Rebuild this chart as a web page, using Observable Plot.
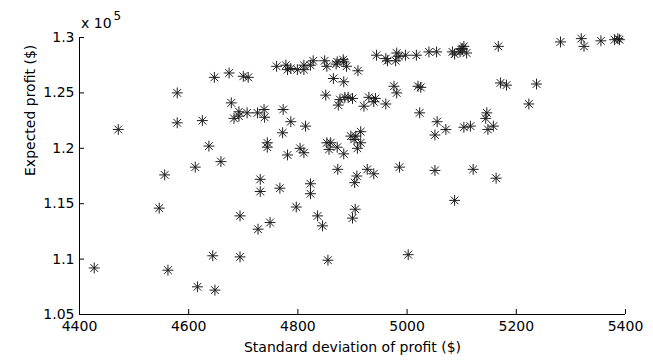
<!DOCTYPE html>
<html>
<head>
<meta charset="utf-8">
<script src="https://cdn.jsdelivr.net/npm/d3@7"></script>
<script src="https://cdn.jsdelivr.net/npm/@observablehq/plot@0.6"></script>
<style>
  html, body { margin: 0; padding: 0; background: #fff; }
</style>
</head>
<body>
<div id="chart"></div>
<script>
// Standard deviation of profit ($)
const stdDev = [4471,4579,4579,4625,4637,4659,4647,4674,4700,4709,4678,4692,4683,4692,4707,4726,4738,4739,4773,4787,
  4814,4772,4744,4744,4781,4804,4811,4853,4860,4857,4872,4884,4897,4906,4915,4903,4915,4909,4761,4778,
  4781,4787,4799,4811,4811,4823,4828,4849,4853,4870,4872,4883,4884,4889,4910,4865,4884,4851,4877,4886,
  4892,4900,4874,4930,4942,4939,4921,4961,4944,4961,4964,4981,4979,4985,4997,5017,5040,5054,4976,4981,
  5020,5025,5023,5055,5051,5083,5087,5097,5101,5104,5109,5099,5167,5281,5319,5324,5355,5380,5386,5389,
  5171,5182,5237,5223,5071,5104,5116,5146,5144,5148,5158,4427,4546,4556,4562,4612,4616,4644,4648,4694,
  4694,4727,4731,4731,4749,4767,4797,4823,4823,4836,4845,4855,4873,4908,4904,4905,4900,4927,4939,4986,
  5051,5002,5121,5163,5087];
// Expected profit (x 10^5 $)
const expProfitE5 = [1.217,1.250,1.223,1.225,1.202,1.188,1.264,1.268,1.265,1.264,1.241,1.233,1.227,1.229,1.232,1.232,1.235,1.228,1.235,1.224,
  1.220,1.214,1.205,1.201,1.194,1.200,1.196,1.205,1.205,1.199,1.201,1.195,1.211,1.211,1.215,1.208,1.205,1.200,1.274,1.275,
  1.271,1.272,1.271,1.275,1.271,1.275,1.279,1.279,1.274,1.276,1.278,1.280,1.278,1.274,1.270,1.263,1.260,1.248,1.244,1.246,
  1.246,1.245,1.239,1.246,1.245,1.242,1.238,1.240,1.284,1.281,1.279,1.286,1.279,1.283,1.284,1.284,1.287,1.287,1.256,1.250,
  1.256,1.255,1.232,1.224,1.212,1.287,1.285,1.287,1.290,1.292,1.286,1.289,1.292,1.296,1.299,1.292,1.297,1.298,1.299,1.298,
  1.259,1.257,1.258,1.240,1.217,1.219,1.220,1.232,1.227,1.217,1.220,1.092,1.146,1.176,1.090,1.183,1.075,1.103,1.072,1.139,
  1.102,1.127,1.172,1.161,1.133,1.164,1.147,1.168,1.159,1.139,1.130,1.099,1.181,1.175,1.169,1.145,1.137,1.181,1.177,1.183,
  1.180,1.104,1.181,1.173,1.153];

const xTicks = [4400, 4600, 4800, 5000, 5200, 5400];
const xTickLabels = ["4400", "4600", "4800", "5000", "5200", "5400"];
const yTicks = [1.05, 1.1, 1.15, 1.2, 1.25, 1.3];
const yTickLabels = ["1.05", "1.1", "1.15", "1.2", "1.25", "1.3"];
const xTitle = "Standard deviation of profit ($)";
const yTitle = "Expected profit ($)";
const exponentBase = "x 10";
const exponentPower = "5";

const points = stdDev.map((x, i) => ({x, y: expProfitE5[i]}));

const W = 653, H = 360;
const mL = 79, mR = 28, mT = 37, mB = 46;
const plotW = W - mL - mR, plotH = H - mT - mB;
const tickLen = 5;

const chart = Plot.plot({
  width: W,
  height: H,
  marginLeft: mL,
  marginRight: mR,
  marginTop: mT,
  marginBottom: mB,
  style: {fontFamily: "DejaVu Sans", fontSize: "14px", color: "#000", background: "#fff", overflow: "visible"},
  x: {domain: [4400, 5400]},
  y: {domain: [1.05, 1.3]},
  marks: [
    Plot.ruleY([yTicks[0]], {stroke: "#000"}),
    Plot.ruleX([xTicks[0]], {stroke: "#000"}),
    Plot.ruleX(xTicks, {stroke: "#000", insetTop: plotH - tickLen}),
    Plot.ruleY(yTicks, {stroke: "#000", insetRight: plotW - tickLen}),
    Plot.dot(points, {x: "x", y: "y", symbol: "plus", r: 3.6, stroke: "#1e1e1e", strokeWidth: 1}),
    Plot.dot(points, {x: "x", y: "y", symbol: "times", r: 3.6, stroke: "#1e1e1e", strokeWidth: 1}),
    Plot.axisX(xTicks, {tickSize: 0, tickPadding: 7, label: null, fill: "#000",
      tickFormat: d => xTickLabels[xTicks.indexOf(d)]}),
    Plot.axisY(yTicks, {tickSize: 0, tickPadding: 5, label: null, fill: "#000",
      tickFormat: d => yTickLabels[yTicks.indexOf(d)]}),
    Plot.text([xTitle], {text: d => d, frameAnchor: "bottom", dy: 37, fill: "#000"}),
    Plot.text([yTitle], {text: d => d, frameAnchor: "left", rotate: -90, dx: -49, fill: "#000"})
  ]
});

const svg = d3.select(chart);
const expText = svg.append("text")
  .attr("x", 81)
  .attr("y", 28)
  .attr("fill", "#000")
  .attr("font-size", 14)
  .attr("text-anchor", "start")
  .text(exponentBase);
expText.append("tspan")
  .attr("dx", 2)
  .attr("dy", -8)
  .attr("font-size", 12)
  .text(exponentPower);

document.getElementById("chart").appendChild(chart);
</script>
</body>
</html>
